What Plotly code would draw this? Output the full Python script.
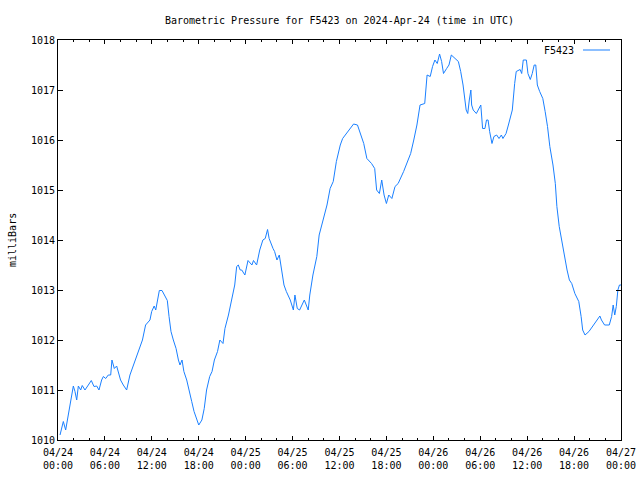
import datetime as dt
import plotly.graph_objects as go

# hours since 2024-04-24 00:00 UTC
hours = [0.26, 0.68, 0.98, 1.32, 1.62, 1.96, 2.17, 2.39, 2.6, 2.9, 3.1, 3.45, 3.88, 4.26, 4.6, 4.95,
         5.24, 5.58, 5.8, 6.1, 6.43, 6.74, 6.9, 7.2, 7.5, 7.7, 8.0, 8.35, 8.78, 9.2, 9.6, 10.1,
         10.5, 10.8, 11.2, 11.76, 11.98, 12.3, 12.5, 12.7, 12.96, 13.3, 13.7, 13.98, 14.2, 14.45,
         14.75, 15.1, 15.4, 15.6, 15.86, 16.1, 16.46, 16.8, 17.1, 17.4, 17.7, 18.0, 18.4, 18.7,
         19.0, 19.4, 19.7, 20.0, 20.4, 20.7, 21.1, 21.35, 21.8, 22.2, 22.6, 22.85, 23.06, 23.3,
         23.5, 23.9, 24.3, 24.8, 25.0, 25.4, 25.8, 26.2, 26.5, 26.8, 27.0, 27.5, 27.7, 28.0,
         28.3, 28.6, 28.9, 29.2, 29.7, 30.1, 30.3, 30.6, 30.9, 31.5, 32.0, 32.2, 32.6, 33.1,
         33.4, 33.9, 34.4, 34.8, 35.2, 35.6, 36.1, 36.4, 36.8, 37.3, 37.8, 38.3, 38.7, 39.1,
         39.5, 40.1, 40.5, 40.75, 41.1, 41.4, 41.7, 42.0, 42.3, 42.7, 43.1, 43.5, 44.2, 44.6,
         45.1, 45.5, 45.9, 46.3, 46.9, 47.2, 47.6, 47.9, 48.2, 48.5, 48.8, 49.06, 49.3, 49.7,
         50.0, 50.3, 50.8, 51.2, 51.5, 51.8, 52.2, 52.4, 52.6, 52.8, 52.9, 53.1, 53.5, 53.9,
         54.07, 54.3, 54.6, 54.8, 55.0, 55.2, 55.5, 55.75, 56.1, 56.4, 56.7, 56.9, 57.3, 57.6,
         57.9, 58.1, 58.4, 58.6, 59.1, 59.3, 59.5, 59.9, 60.1, 60.4, 60.65, 60.9, 61.1, 61.3,
         61.6, 62.0, 62.3, 62.6, 62.9, 63.3, 63.6, 63.8, 64.1, 64.4, 64.7, 65.1, 65.4, 65.7,
         66.1, 66.6, 66.9, 67.1, 67.4, 67.9, 68.4, 68.9, 69.3, 69.5, 69.9, 70.5, 70.8, 71.0,
         71.2, 71.4, 71.6, 71.8, 72.0]
pressure = [1010.10, 1010.37, 1010.20, 1010.53, 1010.83, 1011.08, 1010.97, 1010.80, 1011.08, 1011.00,
            1011.09, 1011.00, 1011.10, 1011.19, 1011.07, 1011.08, 1011.00, 1011.20, 1011.27, 1011.23,
            1011.30, 1011.30, 1011.60, 1011.43, 1011.48, 1011.37, 1011.20, 1011.10, 1011.00, 1011.30,
            1011.47, 1011.70, 1011.85, 1012.00, 1012.30, 1012.40, 1012.57, 1012.68, 1012.60, 1012.81,
            1012.99, 1012.99, 1012.87, 1012.79, 1012.47, 1012.17, 1012.00, 1011.83, 1011.60, 1011.50,
            1011.60, 1011.37, 1011.20, 1010.93, 1010.77, 1010.57, 1010.43, 1010.30, 1010.40, 1010.63,
            1011.00, 1011.27, 1011.37, 1011.60, 1011.77, 1012.00, 1011.93, 1012.23, 1012.50, 1012.77,
            1013.10, 1013.47, 1013.50, 1013.40, 1013.40, 1013.30, 1013.59, 1013.50, 1013.59, 1013.50,
            1013.80, 1014.00, 1014.03, 1014.21, 1014.03, 1013.83, 1013.77, 1013.60, 1013.70, 1013.40,
            1013.10, 1012.97, 1012.80, 1012.60, 1012.90, 1012.63, 1012.60, 1012.80, 1012.60, 1012.90,
            1013.30, 1013.67, 1014.10, 1014.40, 1014.70, 1015.03, 1015.17, 1015.57, 1015.90, 1016.03,
            1016.12, 1016.23, 1016.32, 1016.30, 1016.13, 1015.93, 1015.63, 1015.53, 1015.43, 1015.00,
            1014.93, 1015.20, 1014.90, 1014.73, 1014.90, 1014.83, 1015.07, 1015.13, 1015.37, 1015.53,
            1015.73, 1016.00, 1016.30, 1016.70, 1016.73, 1017.30, 1017.27, 1017.47, 1017.60, 1017.53,
            1017.72, 1017.57, 1017.33, 1017.43, 1017.50, 1017.70, 1017.63, 1017.57, 1017.37, 1017.10,
            1016.60, 1016.53, 1016.80, 1017.00, 1016.70, 1016.60, 1016.53, 1016.63, 1016.70, 1016.23,
            1016.23, 1016.40, 1016.40, 1016.17, 1015.93, 1016.07, 1016.10, 1016.03, 1016.10, 1016.03,
            1016.13, 1016.30, 1016.50, 1016.60, 1017.13, 1017.37, 1017.41, 1017.33, 1017.60, 1017.60,
            1017.33, 1017.21, 1017.33, 1017.50, 1017.50, 1017.10, 1016.97, 1016.83, 1016.57, 1016.27,
            1015.87, 1015.50, 1015.13, 1014.67, 1014.27, 1014.00, 1013.80, 1013.40, 1013.20, 1013.13,
            1012.93, 1012.77, 1012.47, 1012.20, 1012.10, 1012.17, 1012.28, 1012.40, 1012.48, 1012.40,
            1012.30, 1012.30, 1012.47, 1012.70, 1012.50, 1012.67, 1013.00, 1013.10, 1013.10]

tick_hours = [0, 6, 12, 18, 24, 30, 36, 42, 48, 54, 60, 66, 72]
tick_labels = ["04/24<br>00:00", "04/24<br>06:00", "04/24<br>12:00", "04/24<br>18:00",
               "04/25<br>00:00", "04/25<br>06:00", "04/25<br>12:00", "04/25<br>18:00",
               "04/26<br>00:00", "04/26<br>06:00", "04/26<br>12:00", "04/26<br>18:00",
               "04/27<br>00:00"]
y_ticks = [1010, 1011, 1012, 1013, 1014, 1015, 1016, 1017, 1018]

start = dt.datetime(2024, 4, 24, 0, 0)
times = [start + dt.timedelta(hours=h) for h in hours]
tick_times = [start + dt.timedelta(hours=h) for h in tick_hours]

FONT = "DejaVu Sans Mono"
LINE = "#1a80ff"

fig = go.Figure()
fig.add_trace(go.Scatter(x=times, y=pressure, mode="lines",
                         line=dict(color=LINE, width=1), showlegend=False, name="F5423"))

fig.update_layout(
    width=640, height=480,
    margin=dict(l=58, r=19, t=40, b=40, autoexpand=False),
    paper_bgcolor="white", plot_bgcolor="white",
    font=dict(family=FONT, size=10, color="black"),
    title=dict(text="Barometric Pressure for F5423 on 2024-Apr-24 (time in UTC)",
               x=(58 + 621) / 2 / 640, xanchor="center", y=1 - 20 / 480, yanchor="middle",
               font=dict(family=FONT, size=10, color="black")),
    xaxis=dict(range=[tick_times[0], tick_times[-1]], tickvals=tick_times, ticktext=tick_labels,
               automargin=False, ticklabelstandoff=3,
               showgrid=False, zeroline=False, showline=True, linecolor="black", linewidth=1,
               mirror="ticks", ticks="inside", ticklen=4, tickcolor="black",
               minor=dict(dtick=2 * 3600 * 1000, ticks="inside", ticklen=2, tickcolor="black",
                          showgrid=False),
               tickfont=dict(family=FONT, size=10)),
    yaxis=dict(range=[1010, 1018], tickvals=y_ticks, ticktext=[str(v) for v in y_ticks],
               automargin=False,
               showgrid=False, zeroline=False, showline=True, linecolor="black", linewidth=1,
               mirror="ticks", ticks="inside", ticklen=5, tickcolor="black",
               tickfont=dict(family=FONT, size=10)),
)

fig.add_annotation(text="milliBars", xref="paper", yref="paper", x=(12 - 58) / 563, y=0.5,
                   textangle=-90, showarrow=False, xanchor="center", yanchor="middle",
                   font=dict(family=FONT, size=10))
fig.add_annotation(text="F5423", xref="paper", yref="paper", x=(576 - 58) / 563, y=1 - 10 / 400,
                   showarrow=False, xanchor="right", yanchor="middle",
                   font=dict(family=FONT, size=10))
fig.add_shape(type="line", xref="paper", yref="paper", x0=(583 - 58) / 563, x1=(610 - 58) / 563,
              y0=1 - 10 / 400, y1=1 - 10 / 400, line=dict(color=LINE, width=1))

fig.write_html("out.html", config={"displayModeBar": False},
               post_script="document.body.style.margin='0';document.body.style.overflow='hidden';")
